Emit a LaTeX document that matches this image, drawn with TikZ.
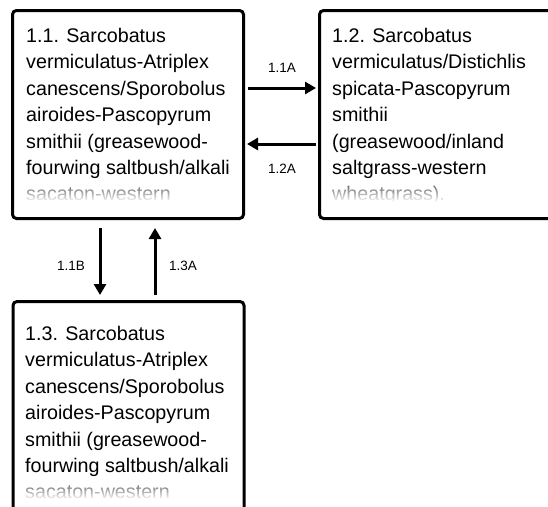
\documentclass[tikz,border=0pt]{standalone}
\usepackage{fontspec}
\setmainfont{Liberation Sans}
\usetikzlibrary{arrows.meta,fadings}
\tikzfading[name=fadedown, top color=transparent!85, bottom color=transparent!0]
\begin{document}
\begin{tikzpicture}[x=1pt,y=-1pt,
  box/.style={draw=black, line width=3pt, rounded corners=4pt, fill=white, inner sep=0pt},
  boxtext/.style={anchor=north west, inner sep=0pt, align=left, font=\fontsize{19.7}{26.4}\selectfont},
  arr/.style={line width=3pt, -{Triangle[length=11pt,width=12pt]}},
  lbl/.style={font=\fontsize{13.5}{15}\selectfont, inner sep=0pt}]
\clip (0,0) rectangle (548,506);
\fill[white] (0,0) rectangle (548,506);
% boxes
\node[box, minimum width=231pt, minimum height=208pt] (b11) at (128,114.5) {};
\node[box, minimum width=241pt, minimum height=208pt] (b12) at (440,114.5) {};
\node[box, minimum width=231pt, minimum height=230pt] (b13) at (128.5,416.5) {};
% texts
\node[boxtext] (t11) at (26,28) {1.1. Sarcobatus\\vermiculatus-Atriplex\\canescens/Sporobolus\\airoides-Pascopyrum\\smithii (greasewood-\\fourwing saltbush/alkali\\sacaton-western};
\node[boxtext] (t12) at (332,28) {1.2. Sarcobatus\\vermiculatus/Distichlis\\spicata-Pascopyrum\\smithii\\(greasewood/inland\\saltgrass-western\\wheatgrass).};
\node[boxtext] (t13) at (25,326) {1.3. Sarcobatus\\vermiculatus-Atriplex\\canescens/Sporobolus\\airoides-Pascopyrum\\smithii (greasewood-\\fourwing saltbush/alkali\\sacaton-western};
% fades over last lines
\fill[white, path fading=fadedown] (15,178) rectangle (241,202);
\fill[white, path fading=fadedown] (322,178) rectangle (546,202);
\fill[white, path fading=fadedown] (15,476) rectangle (241,500);
\fill[white] (15,202) rectangle (241,208);
\fill[white] (322,202) rectangle (546,208);
\fill[white] (15,500) rectangle (241,506);
% connectors
\coordinate (ya) at (0,88);
\coordinate (yb) at (0,144);
\coordinate (xa) at (100,0);
\coordinate (xb) at (155,0);
\draw[arr, shorten <=3pt, shorten >=2pt] (b11.east |- ya) -- (b12.west |- ya);
\draw[arr, shorten <=2pt, shorten >=2pt] (b12.west |- yb) -- (b11.east |- yb);
\draw[arr, shorten <=8pt, shorten >=5pt] (b11.south -| xa) -- (b13.north -| xa);
\draw[arr, shorten <=5pt, shorten >=8pt] (b13.north -| xb) -- (b11.south -| xb);
% labels
\node[lbl] (l11a) at (282,68) {1.1A};
\node[lbl] (l12a) at (282,169) {1.2A};
\node[lbl] (l11b) at (71,266) {1.1B};
\node[lbl] (l13a) at (183,266) {1.3A};
\end{tikzpicture}
\end{document}
